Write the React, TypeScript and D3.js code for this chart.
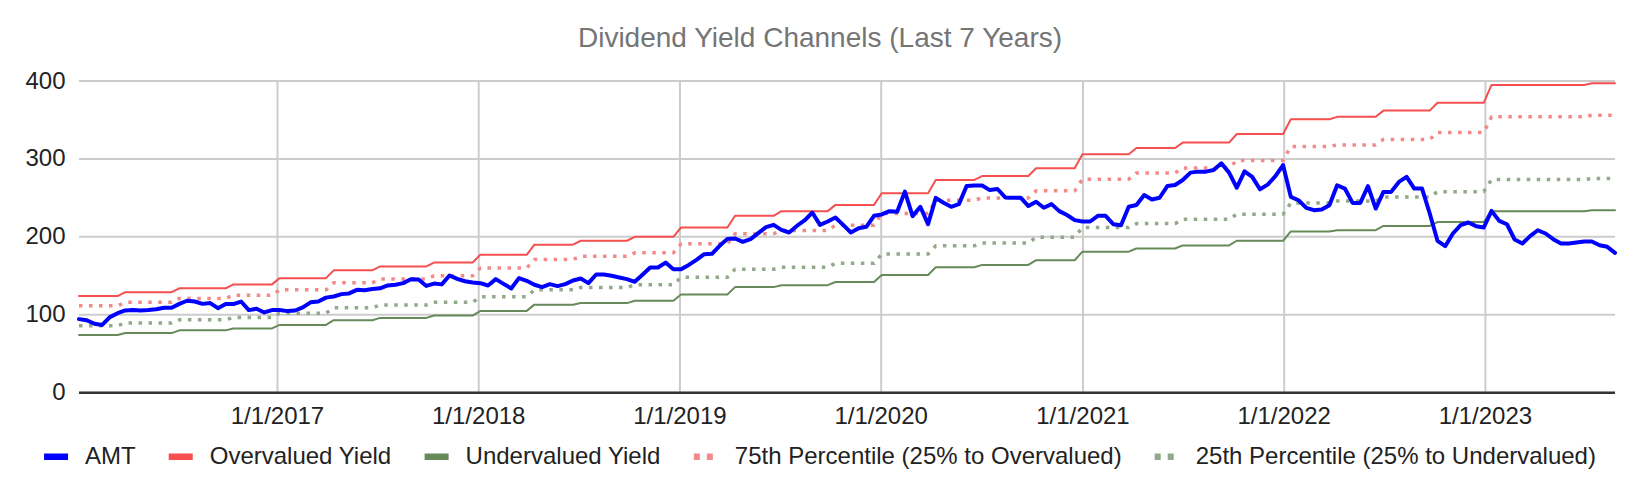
import { useMemo } from 'react'
import * as d3 from 'd3'

const WIDTH = 1640
const HEIGHT = 494
const plotBox = { left: 79, right: 1615, top: 81, bottom: 392.7 }
const FONT = '"Liberation Sans", Arial, sans-serif'

const title = 'Dividend Yield Channels (Last 7 Years)'

// biweekly observations starting on this date
const startDate = new Date(2016, 0, 7)
const stepDays = 14

const amtValues = [
  94.4, 93, 88.5, 87, 97, 102, 105.5, 106, 105.5, 106,
  107, 109, 109, 114, 118, 117, 114, 115, 108.5, 113.7,
  113.7, 117, 106, 107.7, 103, 106, 106, 104.7, 105.5, 109.4,
  116, 117, 122, 123.5, 126.5, 127.4, 132, 131.6, 133, 134,
  137.6, 138.5, 140.6, 145.7, 145.3, 137, 140, 139, 150.4, 146,
  143, 141.5, 140.6, 137.6, 145.7, 139.7, 133.8, 147, 143.6, 138.5,
  135.5, 139.3, 136.8, 139.3, 144, 146.6, 140.6, 151.7, 151.7, 150,
  147.9, 145.7, 142.3, 151.3, 160.7, 160.7, 167, 158.5, 158.5, 164,
  170.5, 177.8, 178.2, 188.5, 197.4, 197.9, 193.6, 197, 204.7, 212.4,
  215.4, 209, 205.6, 214, 221, 231.2, 215.4, 219.7, 224.8, 215.4,
  205.6, 211, 212.9, 227, 228.8, 233, 232.2, 258, 226.6, 238.6,
  216.3, 250, 243.8, 238.6, 242, 265.2, 266, 266, 260, 261.4,
  250.6, 250.2, 250.2, 239.5, 245, 237.3, 242, 233, 228, 221.5,
  219.7, 219.7, 227, 227, 216.3, 215, 238.6, 240.8, 253.6, 248,
  250.2, 265.2, 266.5, 273, 282.4, 283.7, 283.7, 285.8, 294.4, 282.4,
  263, 284, 277, 261, 267, 277.8, 292, 251.3, 247, 237.2,
  234.2, 235, 240.6, 266.2, 262, 243.6, 243.6, 265, 236.3, 257.7,
  257.7, 270.5, 277, 262, 262, 230, 194.9, 188, 204.3, 215,
  218.4, 213.7, 212, 233.3, 220.5, 216.2, 196.6, 191.5, 200.9, 208.5,
  204.3, 197, 191.5, 191.5, 192.7, 194, 194, 189.3, 187.2, 179.5,
]

// the channel lines hold one level per dividend period; this many observations per level
const segmentLengths = [6, 7, 7, 6, 7, 6, 7, 6, 7, 6, 7, 6, 7, 6, 7, 6, 7, 6, 7, 6, 7, 6, 7, 7, 6, 6, 7, 7, 13, 4]

const overvaluedLevels = [
  124, 129, 134, 139, 147, 157, 162, 167, 177, 190, 195, 200, 212, 227, 233,
  241, 256, 273, 278, 288, 306, 314, 321, 332, 351, 354, 362, 372, 395, 397,
]
const undervaluedLevels = [
  74, 76.5, 80, 82.5, 87, 93, 96, 99, 105, 113, 115, 118, 126, 135.5, 138,
  142, 151, 161, 164, 170, 181, 185, 189, 195, 207, 208.5, 214, 219, 233, 234,
]
const p75Levels = [
  111.5, 116, 121, 125, 132, 141, 146, 150, 160, 171, 175, 179.5, 191, 204, 208,
  215, 230, 247, 250, 259, 274, 282, 288.5, 298, 316, 318, 325, 334, 354, 356,
]
const p25Levels = [
  86, 89.5, 93.5, 96.5, 102, 109, 112.5, 116, 123, 132, 135, 138.5, 148, 158.5, 161,
  166, 178, 188.5, 192, 199.5, 212, 217, 222.5, 229, 243.5, 246, 251, 258, 273.5, 275,
]

const yTicks = [0, 100, 200, 300, 400]
const yearTicks = [2017, 2018, 2019, 2020, 2021, 2022, 2023]

type Series = {
  name: string
  color: string
  width: number
  dotted: boolean
  values: number[]
}

function expandLevels(levels: number[]): number[] {
  return levels.flatMap((level, i) => Array(segmentLengths[i]).fill(level))
}

function measure(text: string, size: number): number {
  const ctx = document.createElement('canvas').getContext('2d')
  if (!ctx) return text.length * size * 0.5
  ctx.font = `${size}px ${FONT}`
  return ctx.measureText(text).width
}

export default function App() {
  const dates = useMemo(() => amtValues.map((_, i) => d3.timeDay.offset(startDate, i * stepDays)), [])

  const series: Series[] = useMemo(
    () => [
      { name: 'AMT', color: '#0000ff', width: 4, dotted: false, values: amtValues },
      { name: 'Overvalued Yield', color: '#f5504f', width: 2, dotted: false, values: expandLevels(overvaluedLevels) },
      { name: 'Undervalued Yield', color: '#668a5a', width: 2, dotted: false, values: expandLevels(undervaluedLevels) },
      { name: '75th Percentile (25% to Overvalued)', color: '#f28a8a', width: 3.5, dotted: true, values: expandLevels(p75Levels) },
      { name: '25th Percentile (25% to Undervalued)', color: '#93a98b', width: 3.5, dotted: true, values: expandLevels(p25Levels) },
    ],
    [],
  )

  const x = d3
    .scaleTime()
    .domain([dates[0], dates[dates.length - 1]])
    .range([plotBox.left, plotBox.right])
  const y = d3.scaleLinear().domain([0, 400]).range([plotBox.bottom, plotBox.top])

  const line = d3
    .line<number>()
    .x((_, i) => x(dates[i]))
    .y((d) => y(d))

  // legend layout, centred under the plot
  const legendSize = 24
  const swatchW = 24
  const textGap = 17
  const itemGap = 33
  const legendItems = series.map((s) => ({ ...s, textW: measure(s.name, legendSize) }))
  const legendTotal =
    d3.sum(legendItems, (d) => swatchW + textGap + d.textW) + itemGap * (legendItems.length - 1)
  let cursor = WIDTH / 2 - legendTotal / 2
  const legendPos = legendItems.map((d) => {
    const pos = cursor
    cursor += swatchW + textGap + d.textW + itemGap
    return pos
  })
  const legendBaseline = 464

  // draw channels first, AMT on top
  const drawOrder = [4, 3, 2, 1, 0]

  return (
    <svg
      width={WIDTH}
      height={HEIGHT}
      viewBox={`0 0 ${WIDTH} ${HEIGHT}`}
      style={{ position: 'absolute', left: 0, top: 0, background: '#fff' }}
      fontFamily={FONT}
    >
      <rect width={WIDTH} height={HEIGHT} fill="#fff" />

      <text x={WIDTH / 2} y={47} textAnchor="middle" fontSize={28} fill="#757575">
        {title}
      </text>

      <g className="grid">
        {yTicks.map((t) => (
          <line key={`h${t}`} x1={plotBox.left} x2={plotBox.right} y1={y(t)} y2={y(t)} stroke="#cccccc" strokeWidth={2} />
        ))}
        {yearTicks.map((yr) => {
          const px = x(new Date(yr, 0, 1))
          return <line key={`v${yr}`} x1={px} x2={px} y1={plotBox.top} y2={plotBox.bottom} stroke="#cccccc" strokeWidth={2} />
        })}
      </g>

      <g className="yLabels" fontSize={24} fill="#222">
        {yTicks.map((t) => (
          <text key={t} x={65.5} y={y(t) + 7.5} textAnchor="end">
            {t}
          </text>
        ))}
      </g>

      <g className="xLabels" fontSize={24} fill="#222">
        {yearTicks.map((yr) => (
          <text key={yr} x={x(new Date(yr, 0, 1))} y={424} textAnchor="middle">
            {`1/1/${yr}`}
          </text>
        ))}
      </g>

      <g className="series" fill="none">
        {drawOrder.map((k) => {
          const s = series[k]
          return (
            <path
              key={s.name}
              d={line(s.values) ?? ''}
              stroke={s.color}
              strokeWidth={s.width}
              strokeDasharray={s.dotted ? '3.5 6.5' : undefined}
              strokeLinejoin="round"
              strokeLinecap={s.dotted ? 'butt' : 'round'}
            />
          )
        })}
      </g>

      <line x1={plotBox.left} x2={plotBox.right} y1={y(0)} y2={y(0)} stroke="#333" strokeWidth={2.5} />

      <g className="legend" fontSize={legendSize} fill="#222">
        {legendItems.map((d, i) => {
          const lx = legendPos[i]
          return (
            <g key={d.name}>
              {d.dotted ? (
                <>
                  <rect x={lx} y={legendBaseline - 10.5} width={6} height={6.5} fill={d.color} />
                  <rect x={lx + 13} y={legendBaseline - 10.5} width={6} height={6.5} fill={d.color} />
                </>
              ) : (
                <rect x={lx} y={legendBaseline - 10.5} width={swatchW} height={6.5} fill={d.color} />
              )}
              <text x={lx + swatchW + textGap} y={legendBaseline}>
                {d.name}
              </text>
            </g>
          )
        })}
      </g>
    </svg>
  )
}
